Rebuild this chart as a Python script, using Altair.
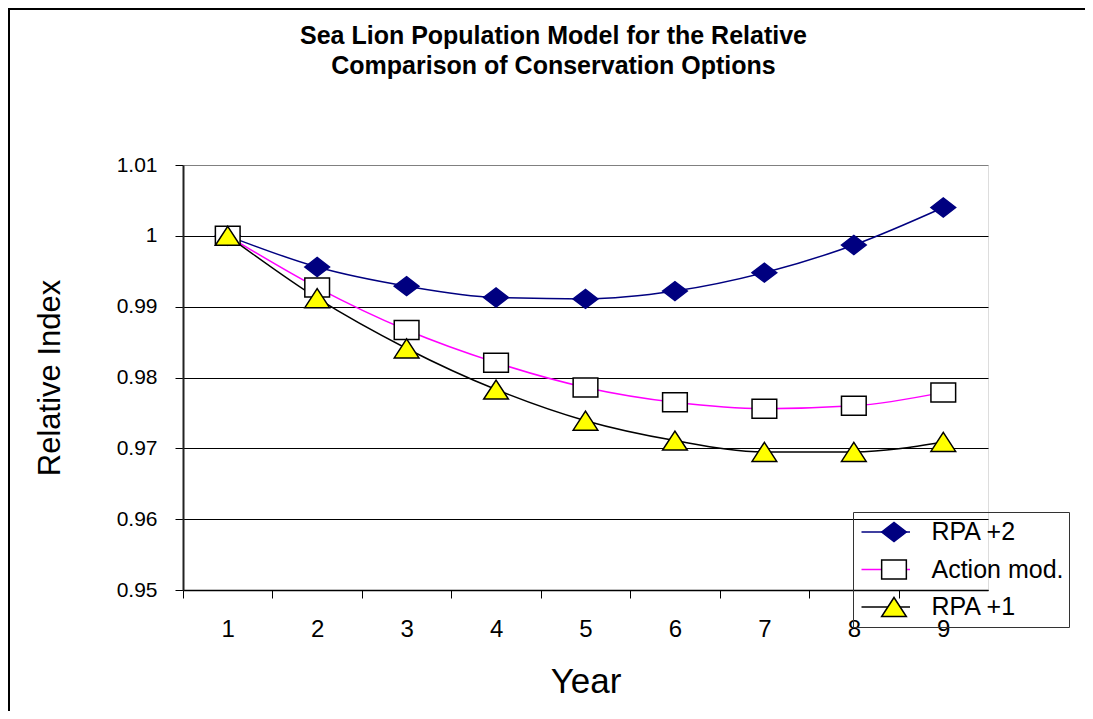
import altair as alt
import pandas as pd

years = [1, 2, 3, 4, 5, 6, 7, 8, 9]
series_names = ["RPA +2", "Action mod.", "RPA +1"]
rpa2 = [1.0, 0.9956, 0.9929, 0.9913, 0.9911, 0.9922, 0.9948, 0.9987, 1.0040]
action_mod = [1.0, 0.9927, 0.9867, 0.9821, 0.9786, 0.9765, 0.9756, 0.9760, 0.9779]
rpa1 = [1.0, 0.9912, 0.9841, 0.9783, 0.9739, 0.9711, 0.9695, 0.9695, 0.9709]

line_colors = ["#000080", "#FF00FF", "#000000"]
marker_fills = ["#000080", "#FFFFFF", "#FFFF00"]
marker_strokes = ["#000080", "#000000", "#000000"]
marker_shapes = [
    "M-1.3,0L0,-1L1.3,0L0,1Z",
    "M-1.3,-1L1.3,-1L1.3,1L-1.3,1Z",
    "M0,-1L1.3,1L-1.3,1Z",
]

rows = []
for name, vals in zip(series_names, [rpa2, action_mod, rpa1]):
    for y, v in zip(years, vals):
        rows.append({"Year": y, "Value": v, "Series": name})
df = pd.DataFrame(rows)

FONT = "Liberation Sans"

x_enc = alt.X(
    "Year:O",
    scale=alt.Scale(type="band", paddingInner=0, paddingOuter=0),
    axis=alt.Axis(
        title="Year", labelAngle=0, labelFontSize=24, labelFont=FONT,
        labelBaseline="alphabetic", labelPadding=38, labelColor="black",
        tickSize=8, tickColor="black", tickWidth=1, tickOffset=-44.7, labelOffset=44.7,
        domainColor="black", domainWidth=1.5,
        titleFontSize=35, titleFont=FONT, titleFontWeight="normal", titleColor="black",
        titleX=402.5, titleY=102, titleBaseline="alphabetic", titleAlign="center",
        grid=False,
    ),
)
y_enc = alt.Y(
    "Value:Q",
    scale=alt.Scale(domain=[0.95, 1.01], nice=False, zero=False),
    axis=alt.Axis(
        title="Relative Index", values=[0.95, 0.96, 0.97, 0.98, 0.99, 1.0, 1.01],
        format=".3~g", labelFontSize=21, labelFont=FONT, labelColor="black",
        labelPadding=18, tickSize=8, tickColor="black",
        domainColor="#222222", domainWidth=2,
        grid=True, gridColor=alt.condition("datum.value >= 1.0095", alt.value("#808080"), alt.value("black")),
        gridWidth=1,
        titleFontSize=31, titleFont=FONT, titleFontWeight="normal", titleColor="black",
        titleX=-133, titleY=212.5, titleBaseline="middle", titleAlign="center", titleAngle=270,
    ),
)

# Legend A: markers, labels and box
marker_legend = alt.Legend(
    title=None, orient="none", legendX=670, legendY=347,
    symbolSize=361, symbolStrokeWidth=1.5, symbolOffset=23.5,
    labelFontSize=25, labelFont=FONT, labelColor="black", labelOffset=25,
    padding=5, rowPadding=7.5, clipHeight=30,
    strokeColor="#333333", fillColor="transparent",
)
# Legend B: line segments only, overlaid on legend A
line_legend = alt.Legend(
    title=None, orient="none", legendX=670, legendY=347,
    symbolType="M-3.2,0H3.2", symbolSize=400, symbolStrokeWidth=1.5, symbolOffset=23,
    labelExpr="''", labelFontSize=25, labelFont=FONT,
    padding=5, rowPadding=7.5, clipHeight=30,
)

lines = alt.Chart(df).mark_line(strokeWidth=1.5, interpolate="monotone").encode(
    x=x_enc, y=y_enc,
    color=alt.Color("Series:N", scale=alt.Scale(domain=series_names, range=line_colors), legend=line_legend),
    detail="Series:N",
)

points = alt.Chart(df).mark_point(filled=True, opacity=1, strokeWidth=1.5, size=361).encode(
    x=x_enc, y=y_enc,
    shape=alt.Shape("Series:N", scale=alt.Scale(domain=series_names, range=marker_shapes), legend=marker_legend),
    fill=alt.Fill("Series:N", scale=alt.Scale(domain=series_names, range=marker_fills), legend=marker_legend),
    stroke=alt.Stroke("Series:N", scale=alt.Scale(domain=series_names, range=marker_strokes), legend=marker_legend),
)

border_df = pd.DataFrame({"k": [0]})
top_border = alt.Chart(border_df).mark_rule(color="black", strokeWidth=2).encode(
    x=alt.value(-176), x2=alt.value(920), y=alt.value(-156), y2=alt.value(-156)
)
left_border = alt.Chart(border_df).mark_rule(color="black", strokeWidth=2).encode(
    x=alt.value(-174), x2=alt.value(-174), y=alt.value(-157), y2=alt.value(560)
)

chart = alt.layer(top_border, left_border, lines, points).resolve_scale(
    color="independent", fill="independent", stroke="independent", shape="independent"
).properties(
    width=805, height=425,
    padding={"left": 175, "top": 157, "right": 97, "bottom": 121},
    autosize=alt.AutoSizeParams(type="none"),
    title=alt.TitleParams(
        text=["Sea Lion Population Model for the Relative", "Comparison of Conservation Options"],
        fontSize=25, font=FONT, fontWeight="bold", color="black",
        anchor="middle", frame="group", lineHeight=30.5, dx=-32, dy=82, offset=10,
    ),
).configure_view(stroke="#808080", strokeWidth=1.5).configure(background="white")

chart.save("out.html", embed_options={"renderer": "svg", "actions": False})
